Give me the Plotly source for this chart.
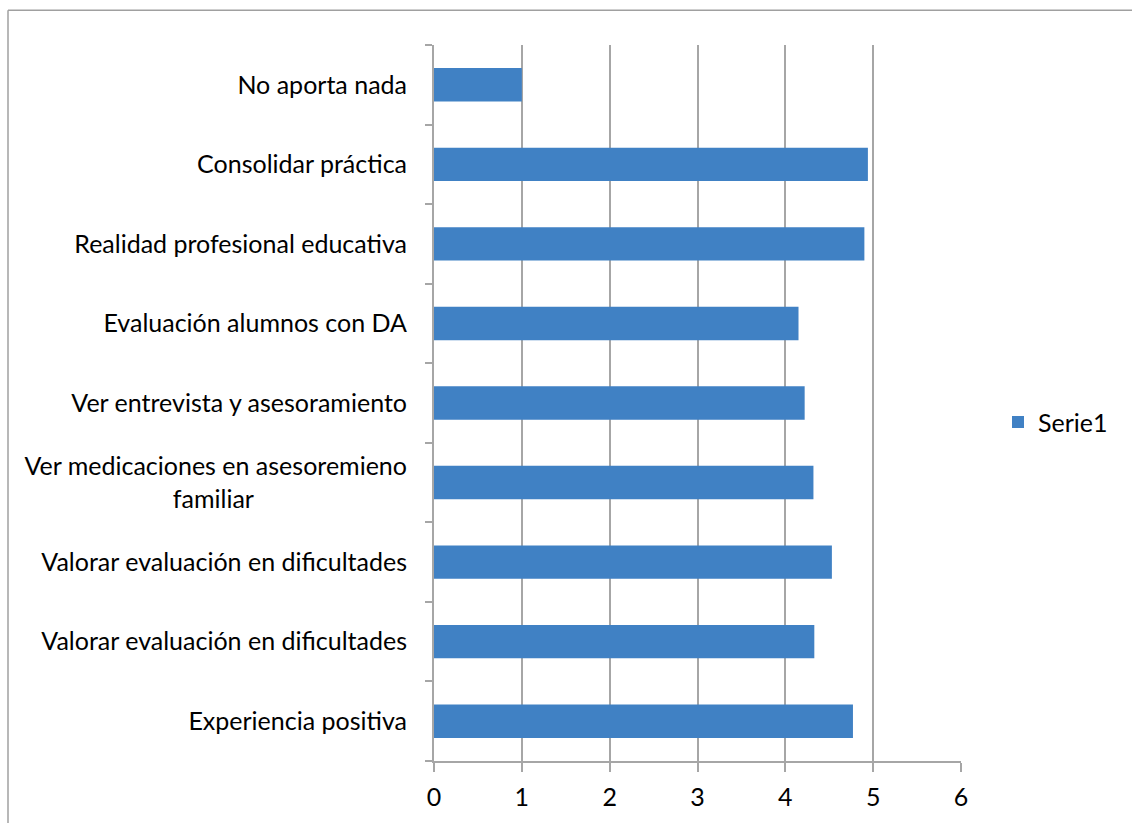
import plotly.graph_objects as go

categories = [
    "Experiencia positiva",
    "Valorar evaluación en dificultades",
    "Valorar evaluación en dificultades",
    "Ver medicaciones en asesoremieno<br>familiar" + "\u00a0" * 24,
    "Ver entrevista y asesoramiento",
    "Evaluación alumnos con DA",
    "Realidad profesional educativa",
    "Consolidar práctica",
    "No aporta nada",
]
values = [4.77, 4.33, 4.53, 4.32, 4.22, 4.15, 4.90, 4.94, 1.0]
series_name = "Serie1"
x_ticks = [0, 1, 2, 3, 4, 5, 6]

positions = list(range(len(categories)))
boundaries = [p - 0.5 for p in range(len(categories) + 1)]

GRID = "#A6A6A6"
FONT = "Lato, Carlito, Calibri, sans-serif"
W, H = 1132, 823
L, T, PW, PH = 434, 45, 527, 719

fig = go.Figure()
fig.add_trace(go.Bar(
    x=values, y=positions, orientation="h", name=series_name,
    marker=dict(color="#4081C4", line=dict(width=0)),
    width=0.42, showlegend=True,
))

bx0 = (8 - L) / PW
by1 = (T + PH - 10) / PH
fig.update_layout(
    width=W, height=H,
    margin=dict(l=L, r=W - L - PW, t=T, b=H - T - PH),
    paper_bgcolor="white", plot_bgcolor="white",
    font=dict(family=FONT, size=25, color="#000000"),
    showlegend=True,
    legend=dict(x=(998 - L) / PW, y=0.473, xanchor="left", yanchor="middle",
                font=dict(size=25), bgcolor="rgba(0,0,0,0)"),
    xaxis=dict(
        range=[0, 6], tickvals=x_ticks, ticktext=[str(v) for v in x_ticks],
        showgrid=True, gridcolor=GRID, gridwidth=2,
        showline=True, linecolor=GRID, linewidth=2,
        ticks="outside", ticklen=9, tickcolor=GRID, tickwidth=2,
        zeroline=False, ticklabelstandoff=4,
    ),
    yaxis=dict(
        range=[-0.5, len(categories) - 0.5],
        tickmode="array", tickvals=positions, ticktext=categories,
        ticks="", showgrid=False, zeroline=False,
        showline=True, linecolor=GRID, linewidth=2,
        ticklabelstandoff=20,
        minor=dict(tickmode="array", tickvals=boundaries, ticks="outside",
                   ticklen=7, tickcolor=GRID, tickwidth=2, showgrid=False),
    ),
    shapes=[
        dict(type="line", xref="paper", yref="paper",
             x0=bx0, x1=1.5, y0=by1, y1=by1,
             line=dict(color="#A0A0A0", width=1.5), layer="below"),
        dict(type="line", xref="paper", yref="paper",
             x0=bx0, x1=bx0, y0=-0.2, y1=by1,
             line=dict(color="#A0A0A0", width=1.5), layer="below"),
    ],
)

fig.write_html(
    "out.html",
    config={"displayModeBar": False},
    post_script="document.body.style.margin='0';document.body.style.overflow='hidden';",
)
